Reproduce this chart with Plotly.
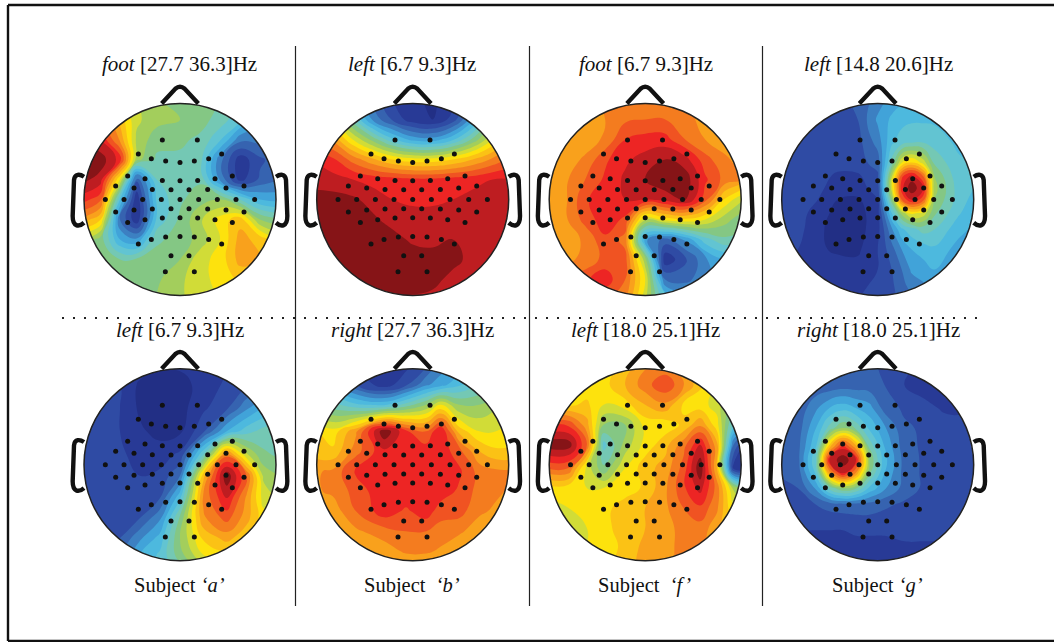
import plotly.graph_objects as go

WIDTH, HEIGHT = 1054, 642
AXIS_HALF = 360          # head radius is 288 of these units

TITLES = ["<i>foot</i> [27.7 36.3]Hz", "<i>left</i> [6.7 9.3]Hz", "<i>foot</i> [6.7 9.3]Hz", "<i>left</i> [14.8 20.6]Hz",
          "<i>left</i> [6.7 9.3]Hz", "<i>right</i> [27.7 36.3]Hz", "<i>left</i> [18.0 25.1]Hz", "<i>right</i> [18.0 25.1]Hz"]
TITLE_CENTERS = [179.5, 412, 646, 878, 180, 412, 645, 878]
SUBJECTS = ["Subject <i>‘a’</i>", "Subject  <i>‘b’</i>", "Subject  <i>‘f’</i>", "Subject <i>‘g’</i>"]

# electrode montage (head units, shared by all maps)
MONT_X = [-53, 52,
          -125, -86, -43, 0, 43, 86, 125,
          -157, -105, -53, 0, 53, 105, 157,
          -193, -138, -83, -27, 27, 83, 138, 192,
          -224, -168, -112, -56, 0, 56, 112, 168, 224,
          -193, -138, -83, -27, 27, 83, 138, 192,
          -157, -105, -53, 0, 53, 105, 157,
          -125, -86, -43, 0, 43, 86, 125,
          -27, 27,
          -44, 43]
MONT_Y = [178, 178,
          136, 122, 115, 111, 115, 122, 136,
          70, 62, 57, 56, 57, 62, 70,
          40, 34, 30, 29, 29, 30, 34, 40,
          0, 0, 0, 0, 0, 0, 0, 0, 0,
          -38, -32, -29, -28, -28, -29, -32, -38,
          -69, -61, -56, -55, -56, -61, -69,
          -134, -120, -113, -111, -113, -120, -134,
          -169, -169,
          -217, -217]

UNI_X = [-300, -240, -180, -120, -60, 0, 60, 120, 180, 240, 300]
UNI_Y = [300, 240, 180, 120, 60, 0, -60, -120, -180, -240, -300]

X_A, Y_A = [-300, -240, -180, -130, -70, 0, 60, 120, 180, 240, 300], UNI_Y
Z_A = [[70,70,62,55,50,50,48,45,40,30,30],
       [88,82,68,56,52,50,47,43,36,28,28],
       [95,90,74,54,47,46,44,36,22,22,24],
       [99,98,88,52,44,44,42,22,7,14,18],
       [97,93,60,16,40,44,44,24,8,16,20],
       [88,82,35,6,36,44,48,50,40,30,28],
       [74,66,20,6,36,46,54,62,68,50,46],
       [55,48,30,26,44,47,52,60,72,68,60],
       [48,46,45,46,47,50,58,62,72,70,66],
       [46,46,46,47,49,54,58,62,66,66,64],
       [46,46,47,48,50,54,58,60,62,62,62]]

X_B, Y_B = UNI_X, UNI_Y
Z_B = [[55,45,32,18,10,6,4,8,18,30,45],
       [68,60,42,24,14,7,5,12,28,48,60],
       [80,74,60,48,36,28,27,34,46,60,72],
       [90,86,78,71,65,62,62,65,70,76,82],
       [93,92,90,88,87,86,86,87,88,90,90],
       [97,97,96,93,90,89,89,90,92,93,93],
       [97,97,97,96,93,92,92,93,94,94,94],
       [94,96,98,98,97,94,93,95,94,94,94],
       [94,95,96,98,98,98,98,97,93,93,93],
       [93,94,95,96,98,98,97,93,92,92,92],
       [93,93,93,94,94,94,93,92,92,92,92]]

X_C, Y_C = UNI_X, UNI_Y
Z_C = [[72,72,74,76,78,80,80,76,72,72,72],
       [72,72,72,75,79,80,80,78,72,70,70],
       [72,72,72,76,85,87,87,80,75,72,72],
       [72,72,76,84,89,92,95,92,82,76,72],
       [74,74,80,86,91,95,99,98,86,78,74],
       [74,74,84,89,90,90,92,96,82,64,54],
       [74,74,82,88,84,56,62,64,60,52,46],
       [72,72,76,84,78,26,18,26,38,44,44],
       [72,74,76,82,82,52,6,14,24,30,30],
       [78,80,84,88,80,60,20,18,24,28,30],
       [78,78,80,80,76,56,36,30,30,30,30]]

X_D = [-300, -240, -180, -120, -60, 0, 42, 72, 102, 137, 170, 240, 300]
Y_D = [300, 240, 170, 110, 69, 34, -1, -41, -90, -150, -210, -260, -300]
Z_D = [[14,14,14,14,16,22,27,29,30,30,30,30,30],
       [13,13,13,13,15,26,31,33,34,34,34,34,34],
       [13,13,13,13,13,22,34,38,40,40,38,34,33],
       [13,13,12,12,13,17,42,60,66,58,44,36,34],
       [13,13,12,9,9,14,55,84,92,80,50,37,34],
       [13,13,11,8,8,12,58,88,99,90,52,38,34],
       [13,12,10,5,4,10,48,80,90,82,50,38,32],
       [13,12,8,3,3,8,35,52,62,58,46,36,30],
       [13,12,6,3,3,8,24,34,38,42,40,32,28],
       [12,10,6,4,4,10,18,25,30,32,34,28,26],
       [10,10,8,8,7,10,15,20,26,28,30,28,26],
       [10,10,9,9,9,11,14,18,22,24,26,26,26],
       [10,10,10,10,10,12,14,16,18,19,20,22,22]]

X_E = [-300, -240, -180, -120, -60, 0, 70, 140, 200, 250, 300]
Y_E = [300, 240, 170, 100, 30, -33, -100, -160, -220, -270, -300]
Z_E = [[10,10,9,8,6,6,7,9,10,12,14],
       [12,11,10,4,3,3,7,11,14,16,18],
       [14,13,10,4,3,3,9,14,24,30,34],
       [14,13,10,6,3,4,14,30,38,42,44],
       [14,13,11,8,8,11,40,78,56,46,44],
       [14,13,11,10,11,20,68,99,80,54,50],
       [14,13,12,11,15,34,76,90,74,58,54],
       [13,13,13,15,24,46,74,82,72,62,60],
       [13,13,15,24,32,50,66,72,66,60,58],
       [13,15,20,30,36,48,60,63,60,58,56],
       [15,18,24,30,36,44,54,58,56,56,56]]

X_F = [-300, -240, -170, -85, -20, 40, 85, 140, 200, 250, 300]
Y_F = [300, 240, 180, 100, 40, -20, -80, -140, -200, -260, -300]
Z_F = [[25,20,10,7,8,14,22,26,30,34,38],
       [30,26,15,7,14,24,28,34,40,44,48],
       [48,42,36,34,42,50,60,50,50,54,58],
       [66,62,74,99,86,80,90,68,60,60,62],
       [68,66,78,89,88,88,88,82,70,66,66],
       [74,76,86,89,89,89,88,86,78,76,76],
       [74,76,82,89,89,89,88,84,78,76,74],
       [70,72,80,88,84,88,82,82,76,74,72],
       [70,72,74,78,80,80,78,76,72,70,70],
       [68,70,70,72,76,76,74,70,66,64,64],
       [66,68,68,68,70,70,68,66,64,64,64]]

X_G = [-300, -230, -175, -125, -60, 0, 60, 115, 165, 215, 265, 300]
Y_G = [300, 240, 180, 120, 60, -10, -70, -130, -190, -250, -300]
Z_G = [[60,62,62,62,66,74,76,66,62,62,60,60],
       [58,60,62,63,70,78,84,76,66,60,54,50],
       [64,64,66,60,63,70,74,64,62,58,46,40],
       [84,84,72,50,50,62,62,66,74,62,38,30],
       [98,98,80,38,52,62,68,78,90,72,20,8],
       [80,80,58,46,60,68,72,82,99,70,8,4],
       [62,62,60,60,62,66,74,84,92,78,54,48],
       [58,60,62,63,68,70,74,80,84,76,60,54],
       [56,58,60,63,68,70,74,76,78,72,64,60],
       [56,58,60,63,66,72,74,76,76,72,66,64],
       [58,58,60,64,68,72,74,76,74,70,66,66]]

X_H = [-300, -240, -185, -145, -105, -65, -25, 20, 80, 140, 200, 250, 300]
Y_H = [300, 240, 170, 110, 54, 14, -26, -70, -120, -180, -230, -270, -300]
Z_H = [[14,14,15,16,16,16,16,14,12,9,6,5,5],
       [15,15,16,16,17,17,17,15,10,7,6,6,8],
       [15,16,24,30,33,30,27,18,14,12,9,9,10],
       [15,17,30,42,50,44,34,26,16,14,13,12,12],
       [15,18,35,68,88,72,44,30,17,14,13,13,13],
       [15,18,40,90,99,90,50,32,18,14,13,13,13],
       [15,17,36,72,90,74,46,30,18,14,13,13,13],
       [14,15,26,42,50,46,34,26,18,14,13,13,13],
       [12,13,15,17,18,18,18,16,14,13,12,12,12],
       [10,11,11,11,11,12,12,12,12,12,11,11,11],
       [8,8,8,8,8,9,9,9,10,10,10,10,10],
       [6,6,6,6,6,6,6,7,7,8,8,8,8],
       [4,4,4,4,4,4,4,5,5,6,6,6,6]]

MAPS = [(X_A, Y_A, Z_A), (X_B, Y_B, Z_B), (X_C, Y_C, Z_C), (X_D, Y_D, Z_D),
        (X_E, Y_E, Z_E), (X_F, Y_F, Z_F), (X_G, Y_G, Z_G), (X_H, Y_H, Z_H)]
CENTERS_X = [180, 412.7, 645.2, 877.7]
CENTERS_Y = [199.4, 464.7]

COLORS = [[0.00, "#1f2a7c"], [0.10, "#2b3f9e"], [0.20, "#3a6fb6"], [0.30, "#43b4e4"],
          [0.40, "#6cc9cc"], [0.50, "#8cc66c"], [0.56, "#c3d945"], [0.62, "#fde50c"],
          [0.72, "#f9a51c"], [0.80, "#f26a21"], [0.88, "#ed2024"], [0.94, "#ae1c20"],
          [1.00, "#6a0f10"]]

CIRCLE = ("M288,0 C288,159 159,288 0,288 C-159,288 -288,159 -288,0 "
          "C-288,-159 -159,-288 0,-288 C159,-288 288,-159 288,0 Z")
MASK = "M-310,-310 L310,-310 L310,310 L-310,310 Z " + CIRCLE
NOSE = "M-55,288 L-14,332 Q0,344 14,332 L55,288"
EAR_L = "M-288,68 C-300,76 -316,78 -318,58 L-322,-50 C-322,-82 -304,-84 -288,-70"
EAR_R = "M288,68 C300,76 316,78 318,58 L322,-50 C322,-82 304,-84 288,-70"

fig = go.Figure()
shapes, annots = [], []
BLACK = "#111111"

for i, (xs, ys, zs) in enumerate(MAPS):
    r, c = divmod(i, 4)
    ax = "" if i == 0 else str(i + 1)
    cx, cy = CENTERS_X[c], CENTERS_Y[r]
    half_px = 120
    fig.layout[f"xaxis{ax}"] = dict(domain=[(cx - half_px) / WIDTH, (cx + half_px) / WIDTH],
                                    range=[-AXIS_HALF, AXIS_HALF], visible=False, fixedrange=True,
                                    anchor=f"y{ax}")
    fig.layout[f"yaxis{ax}"] = dict(domain=[1 - (cy + half_px) / HEIGHT, 1 - (cy - half_px) / HEIGHT],
                                    range=[-AXIS_HALF, AXIS_HALF], visible=False, fixedrange=True,
                                    anchor=f"x{ax}")
    fig.add_trace(go.Contour(x=xs, y=ys[::-1], z=zs[::-1], xaxis=f"x{ax}", yaxis=f"y{ax}",
                             colorscale=COLORS, zmin=0, zmax=100, showscale=False,
                             autocontour=False, contours=dict(start=0, end=100, size=5, coloring="fill"),
                             line=dict(width=0, smoothing=1.3), hoverinfo="skip"))
    fig.add_trace(go.Scatter(x=MONT_X, y=MONT_Y, xaxis=f"x{ax}", yaxis=f"y{ax}", mode="markers",
                             marker=dict(color=BLACK, size=5), hoverinfo="skip", showlegend=False))
    xr, yr = f"x{ax}", f"y{ax}"
    shapes.append(dict(type="path", path=MASK, xref=xr, yref=yr, fillcolor="white",
                       line=dict(width=0), layer="above"))
    shapes.append(dict(type="path", path=CIRCLE, xref=xr, yref=yr, line=dict(color="#222222", width=1.5), layer="above"))
    for p in (NOSE, EAR_L, EAR_R):
        shapes.append(dict(type="path", path=p, xref=xr, yref=yr, line=dict(color=BLACK, width=4.4), layer="above"))
    tx = TITLE_CENTERS[i]
    ty = [64, 330][r]
    annots.append(dict(text=TITLES[i], x=tx / WIDTH, y=1 - ty / HEIGHT, xref="paper", yref="paper",
                       showarrow=False, xanchor="center", yanchor="middle",
                       font=dict(family="Liberation Serif", size=21, color="#111111")))

for c, s in enumerate(SUBJECTS):
    annots.append(dict(text=s, x=CENTERS_X[c] / WIDTH - 0.0005, y=1 - 585 / HEIGHT, xref="paper", yref="paper",
                       showarrow=False, xanchor="center", yanchor="middle",
                       font=dict(family="Liberation Serif", size=20.5, color="#111111")))

def px_x(v): return v / WIDTH
def px_y(v): return 1 - v / HEIGHT

for xa, ya, xb, yb in ((8, 5, 1054, 5), (8, 5, 8, 641), (8, 641, 1054, 641)):
    shapes.append(dict(type="line", xref="paper", yref="paper", x0=px_x(xa), x1=px_x(xb), y0=px_y(ya), y1=px_y(yb),
                       line=dict(color="#111111", width=2.4), layer="above"))
for vx in (295.5, 529.5, 762.5):
    shapes.append(dict(type="line", xref="paper", yref="paper", x0=px_x(vx), x1=px_x(vx), y0=px_y(46), y1=px_y(606),
                       line=dict(color="#222222", width=1.2), layer="above"))
shapes.append(dict(type="line", xref="paper", yref="paper", x0=px_x(62), x1=px_x(986), y0=px_y(318), y1=px_y(318),
                   line=dict(color="#222222", width=2, dash="2px,9px"), layer="above"))

fig.update_layout(width=WIDTH, height=HEIGHT, margin=dict(l=0, r=0, t=0, b=0), showlegend=False,
                  paper_bgcolor="white", plot_bgcolor="white", shapes=shapes, annotations=annots)
fig.write_html("out.html", post_script="document.body.style.margin='0';", config={"displayModeBar": False})
